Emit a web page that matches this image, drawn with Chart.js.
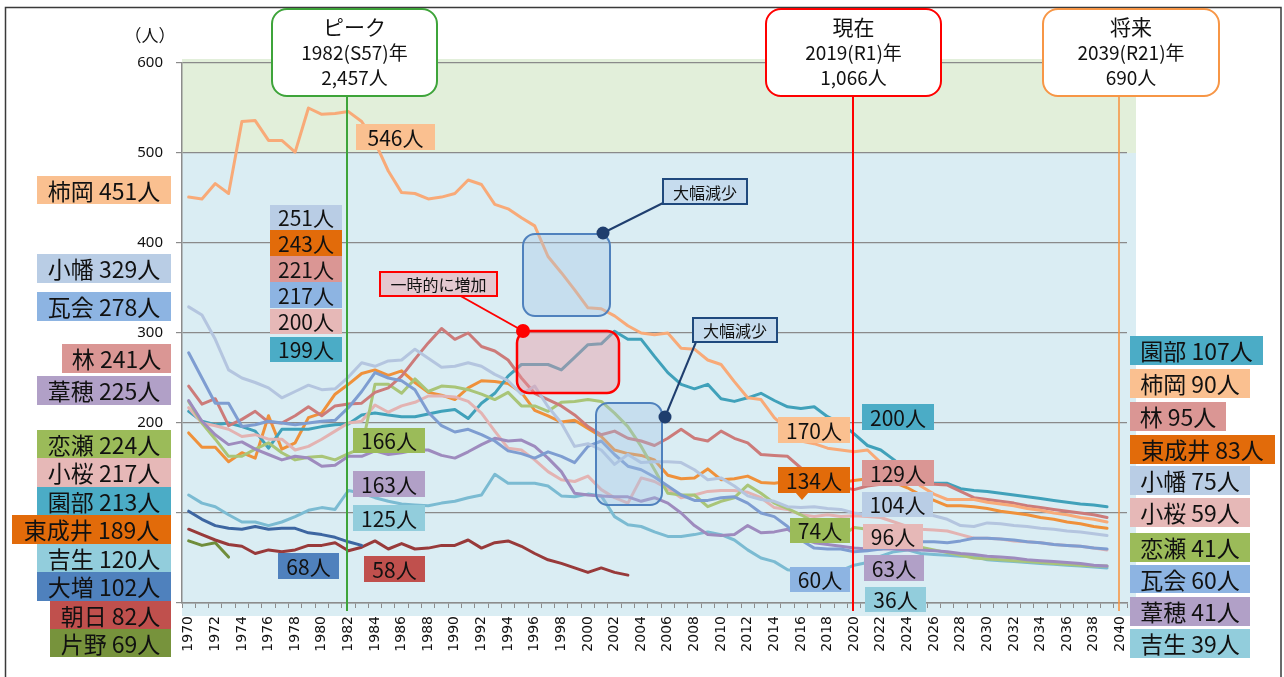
<!DOCTYPE html>
<html>
<head>
<meta charset="utf-8">
<script src="https://cdn.jsdelivr.net/npm/chart.js@4.4.1/dist/chart.umd.min.js"></script>
<style>
  html, body { margin: 0; padding: 0; background: #fff; }
  #wrap { width: 1284px; height: 677px; position: relative; }
</style>
</head>
<body>
<div id="wrap"><canvas id="chart" width="1284" height="677"></canvas></div>
<script>
// years on the category axis (1970 - 2040)
const years = []
for (let y = 1970; y <= 2040; y++) years.push(String(y))

// 児童数 (人), 1970 - 2039
const kakioka = [451, 449, 466, 455, 535, 536, 514, 514, 501, 550, 543, 544, 546, 535, 512, 480, 456, 455, 449, 451,
  455, 470, 465, 443, 438, 428, 419, 385, 367, 348, 328, 327, 319, 308, 300, 298, 300, 283, 282, 270,
  265, 246, 228, 226, 206, 193, 180, 177, 172, 170, 168, 170, 156, 150, 143, 130, 121, 115, 115, 115,
  112, 110, 108, 105, 103, 100, 98, 95, 93, 90]
const obata = [329, 320, 293, 259, 250, 245, 239, 228, 235, 242, 237, 238, 251, 267, 263, 269, 270, 282, 272, 262,
  263, 267, 263, 254, 247, 232, 241, 218, 200, 174, 177, 170, 154, 165, 156, 157, 157, 156, 148, 137,
  139, 130, 119, 115, 113, 107, 106, 107, 105, 104, 100, 98, 97, 98, 99, 99, 97, 93, 86, 85,
  89, 88, 86, 85, 83, 82, 80, 79, 77, 75]
const kawarago = [278, 250, 222, 222, 196, 198, 202, 200, 198, 200, 202, 203, 217, 235, 256, 250, 247, 237, 212, 197,
  190, 193, 187, 180, 169, 166, 161, 168, 163, 156, 174, 180, 165, 152, 148, 140, 130, 120, 114, 114,
  117, 118, 111, 100, 96, 85, 70, 61, 60, 60, 57, 58, 60, 63, 66, 68, 68, 67, 69, 72,
  72, 71, 70, 68, 67, 65, 64, 63, 61, 60]
const hayashi = [241, 221, 227, 197, 204, 213, 201, 200, 208, 218, 208, 219, 221, 222, 234, 239, 252, 271, 289, 305,
  293, 300, 285, 280, 270, 250, 233, 226, 219, 209, 196, 187, 191, 183, 180, 175, 183, 193, 183, 180,
  191, 183, 178, 165, 164, 163, 150, 141, 135, 129, 126, 130, 132, 133, 133, 132, 132, 131, 124, 117,
  115, 113, 111, 108, 106, 104, 102, 100, 98, 95]
const ashiho = [225, 202, 187, 176, 179, 171, 165, 159, 163, 161, 152, 153, 163, 163, 169, 165, 167, 170, 170, 164,
  161, 168, 176, 183, 180, 181, 174, 161, 146, 122, 120, 119, 118, 118, 113, 117, 111, 100, 86, 76,
  75, 76, 86, 78, 79, 82, 72, 67, 65, 63, 61, 60, 60, 60, 59, 59, 58, 57, 55, 54,
  52, 51, 50, 48, 47, 46, 45, 44, 42, 41]
const koise = [224, 200, 182, 163, 163, 171, 178, 167, 159, 162, 163, 159, 166, 172, 243, 243, 233, 249, 235, 241,
  240, 237, 232, 226, 234, 219, 219, 213, 223, 224, 226, 224, 211, 196, 174, 148, 122, 120, 120, 107,
  113, 117, 131, 122, 111, 105, 98, 90, 82, 74, 84, 82, 78, 72, 66, 62, 59, 56, 53, 50,
  49, 48, 47, 46, 45, 44, 43, 42, 41, 41]
const kozakura = [217, 200, 197, 193, 185, 187, 182, 182, 170, 174, 182, 191, 200, 202, 220, 212, 219, 223, 230, 230,
  229, 224, 211, 191, 172, 170, 159, 146, 137, 135, 141, 126, 117, 111, 139, 135, 127, 117, 120, 124,
  125, 125, 123, 117, 106, 104, 98, 96, 98, 96, 97, 96, 95, 90, 85, 82, 81, 80, 76, 72,
  72, 71, 69, 68, 67, 65, 64, 63, 61, 59]
const sonobe = [213, 202, 198, 200, 196, 191, 172, 193, 193, 193, 196, 198, 199, 209, 211, 209, 207, 207, 210, 213,
  215, 205, 222, 233, 252, 265, 265, 265, 259, 273, 287, 288, 302, 293, 293, 274, 256, 243, 238, 243,
  227, 224, 228, 233, 225, 218, 216, 218, 207, 200, 188, 175, 170, 159, 146, 133, 133, 133, 127, 125,
  124, 122, 120, 118, 116, 114, 112, 110, 109, 107]
const higashinarui = [189, 173, 173, 157, 167, 161, 208, 171, 178, 206, 211, 232, 243, 255, 259, 253, 258, 245, 234, 231,
  226, 239, 247, 246, 244, 234, 214, 208, 201, 203, 194, 185, 170, 166, 164, 159, 142, 138, 139, 149,
  137, 138, 141, 134, 133, 135, 131, 132, 133, 134, 136, 138, 137, 134, 128, 120, 114, 108, 108, 107,
  105, 102, 100, 98, 95, 93, 90, 88, 85, 83]
const yoshio = [120, 111, 107, 98, 90, 90, 86, 90, 96, 103, 106, 104, 125, 122, 117, 113, 110, 109, 108, 111,
  113, 117, 120, 143, 133, 133, 133, 130, 119, 118, 121, 119, 96, 87, 85, 79, 74, 74, 76, 79,
  76, 70, 59, 50, 46, 37, 35, 35, 36, 36, 42, 45, 52, 57, 59, 55, 54, 53, 52, 52,
  48, 47, 46, 45, 44, 43, 42, 41, 40, 39]
const omasu = [102, 93, 86, 83, 82, 85, 82, 83, 83, 78, 76, 73, 68, 64]
const asahi = [82, 76, 70, 65, 63, 55, 59, 57, 59, 64, 64, 67, 58, 62, 69, 60, 66, 60, 61, 64,
  64, 70, 61, 67, 69, 63, 55, 48, 44, 39, 34, 39, 34, 31]
const katano = [69, 64, 67, 51]

const seriesNames = ['柿岡', '小幡', '瓦会', '林', '葦穂', '恋瀬', '小桜', '園部', '東成井', '吉生', '大増', '朝日', '片野']
const seriesValues = [kakioka, obata, kawarago, hayashi, ashiho, koise, kozakura, sonobe, higashinarui, yoshio, omasu, asahi, katano]
const lineColors = ['#F8AA78', '#B4C5DF', '#7E9DD1', '#CC7B7A', '#9E8BBE', '#A9C578', '#E3B3B2',
  '#40A1BA', '#EF913B', '#7BBBD2', '#3D66A1', '#983A3A', '#6F8D3B']
const boxColors = ['#FAC090', '#B9CDE5', '#8DB4E2', '#DA9694', '#B1A0C7', '#9BBB59', '#E6B8B7',
  '#4BACC6', '#E26B0A', '#92CDDC', '#4F81BD', '#C0504D', '#77933C']

const yTicks = [0, 100, 200, 300, 400, 500, 600]
const callouts = [
  ['ピーク', '1982(S57)年', '2,457人'],
  ['現在', '2019(R1)年', '1,066人'],
  ['将来', '2039(R21)年', '690人']
]
const notes = ['一時的に増加', '大幅減少', '大幅減少']

const JP = '"Noto Sans CJK JP", "Noto Sans", sans-serif'

function pad(values) {
  const out = values.slice()
  while (out.length < years.length) out.push(null)
  return out
}

// Drawing helpers
function roundRect(ctx, x1, y1, x2, y2, r) {
  ctx.beginPath()
  ctx.moveTo(x1 + r, y1)
  ctx.lineTo(x2 - r, y1)
  ctx.arcTo(x2, y1, x2, y1 + r, r)
  ctx.lineTo(x2, y2 - r)
  ctx.arcTo(x2, y2, x2 - r, y2, r)
  ctx.lineTo(x1 + r, y2)
  ctx.arcTo(x1, y2, x1, y2 - r, r)
  ctx.lineTo(x1, y1 + r)
  ctx.arcTo(x1, y1, x1 + r, y1, r)
  ctx.closePath()
}

function labelBox(ctx, b, text, size) {
  const [x1, y1, x2, y2, color] = b
  ctx.fillStyle = color
  ctx.fillRect(x1, y1, x2 - x1, y2 - y1)
  ctx.fillStyle = '#111'
  ctx.font = size + 'px ' + JP
  ctx.textAlign = 'center'
  ctx.textBaseline = 'middle'
  ctx.fillText(text, (x1 + x2) / 2, (y1 + y2) / 2 + 1)
}

function dot(ctx, x, y, r, color) {
  ctx.beginPath()
  ctx.arc(x, y, r, 0, Math.PI * 2)
  ctx.fillStyle = color
  ctx.fill()
}

const decoPlugin = {
  id: 'deco',
  beforeDraw(chart) {
    const ctx = chart.ctx
    const ys = chart.scales.y
    const area = chart.chartArea
    ctx.save()
    ctx.fillStyle = '#fff'
    ctx.fillRect(0, 0, chart.width, chart.height)
    // outer frame
    ctx.strokeStyle = '#3a3a3a'
    ctx.lineWidth = 1.5
    ctx.strokeRect(5.5, 7.5, 1275.5, 700)
    // plot background bands
    ctx.fillStyle = '#E2EFDA'
    ctx.fillRect(area.left, ys.getPixelForValue(600) - 4, area.right - area.left + 9, ys.getPixelForValue(500) - ys.getPixelForValue(600) + 4)
    ctx.fillStyle = '#DAEDF3'
    ctx.fillRect(area.left, ys.getPixelForValue(500), area.right - area.left + 9, area.bottom - ys.getPixelForValue(500) + 13)
    ctx.restore()
  },
  afterDatasetsDraw(chart) {
    const ctx = chart.ctx
    const xs = chart.scales.x
    const area = chart.chartArea
    ctx.save()

    // highlight boxes
    roundRect(ctx, 523, 234, 610, 316, 12)
    ctx.fillStyle = 'rgba(160,195,230,0.35)'
    ctx.fill()
    ctx.strokeStyle = '#4F81BD'
    ctx.lineWidth = 2
    ctx.stroke()

    roundRect(ctx, 596, 403, 662, 505, 12)
    ctx.fillStyle = 'rgba(160,195,230,0.35)'
    ctx.fill()
    ctx.stroke()

    roundRect(ctx, 517, 331, 619, 393, 12)
    ctx.fillStyle = 'rgba(235,150,160,0.42)'
    ctx.fill()
    ctx.strokeStyle = '#FF0000'
    ctx.lineWidth = 2.5
    ctx.stroke()

    // connectors
    ctx.lineWidth = 2
    ctx.strokeStyle = '#FF0000'
    ctx.beginPath(); ctx.moveTo(457, 294); ctx.lineTo(523, 331); ctx.stroke()
    dot(ctx, 523, 331, 7, '#FF0000')
    ctx.strokeStyle = '#1F3E6E'
    ctx.beginPath(); ctx.moveTo(665, 202); ctx.lineTo(603, 233); ctx.stroke()
    dot(ctx, 603, 233, 6.5, '#1F3E6E')
    ctx.beginPath(); ctx.moveTo(696, 342); ctx.lineTo(665, 417); ctx.stroke()
    dot(ctx, 665, 417, 6.5, '#1F3E6E')

    // note boxes
    const noteBoxes = [
      [380, 272, 497, 296, '#E4C8D0', '#FF0000'],
      [663, 179, 747, 204, '#C6DCEE', '#1F497D'],
      [693, 318, 777, 342, '#C6DCEE', '#1F497D']
    ]
    noteBoxes.forEach((b, i) => {
      ctx.fillStyle = b[4]
      ctx.fillRect(b[0], b[1], b[2] - b[0], b[3] - b[1])
      ctx.strokeStyle = b[5]
      ctx.lineWidth = 2
      ctx.strokeRect(b[0], b[1], b[2] - b[0], b[3] - b[1])
      ctx.fillStyle = '#111'
      ctx.font = '16px ' + JP
      ctx.textAlign = 'center'
      ctx.textBaseline = 'middle'
      ctx.fillText(notes[i], (b[0] + b[2]) / 2, (b[1] + b[3]) / 2 + 1)
    })

    // marker lines + callouts (1982, 2020, 2040)
    const marks = [
      [years.indexOf('1982'), '#3EA43A', 2, 272, 437],
      [years.indexOf('2020'), '#FF0000', 2, 766, 941],
      [years.indexOf('2040'), '#F79646', 1.6, 1043, 1219]
    ]
    marks.forEach((m, i) => {
      const x = Math.round(xs.getPixelForValue(m[0])) - 1
      ctx.strokeStyle = m[1]
      ctx.lineWidth = m[2]
      ctx.beginPath(); ctx.moveTo(x, 96); ctx.lineTo(x, area.bottom + 8); ctx.stroke()
      roundRect(ctx, m[3], 9, m[4], 96, 15)
      ctx.fillStyle = '#fff'
      ctx.fill()
      ctx.lineWidth = 2
      ctx.stroke()
      const cx = (m[3] + m[4]) / 2
      ctx.fillStyle = '#111'
      ctx.textAlign = 'center'
      ctx.textBaseline = 'middle'
      ctx.font = '21px ' + JP
      ctx.fillText(callouts[i][0], cx, 27)
      ctx.font = '19px ' + JP
      ctx.fillText(callouts[i][1], cx, 53)
      ctx.fillText(callouts[i][2], cx, 78)
    })
    ctx.restore()
  },
  afterDraw(chart) {
    const ctx = chart.ctx
    ctx.save()
    // unit
    ctx.fillStyle = '#111'
    ctx.font = '17px ' + JP
    ctx.textAlign = 'center'
    ctx.textBaseline = 'middle'
    ctx.fillText('（人）', 150, 36)

    const txt = (s, i) => seriesNames[s] + ' ' + seriesValues[s][i] + '人'
    const num = (s, i) => seriesValues[s][i] + '人'

    // 1970 labels
    const left = [
      [0, 37, 176, 171, 204], [1, 37, 254, 171, 283], [2, 37, 292, 171, 321], [3, 62, 344, 171, 373],
      [4, 37, 376, 171, 405], [5, 37, 430, 171, 458], [6, 37, 458, 171, 487], [7, 37, 487, 171, 515],
      [8, 12, 515, 171, 544], [9, 37, 544, 171, 572], [10, 37, 572, 171, 601], [11, 50, 601, 171, 629],
      [12, 50, 629, 171, 657]
    ]
    left.forEach((b) => labelBox(ctx, [b[1], b[2], b[3], b[4], boxColors[b[0]]], txt(b[0], 0), 23))

    // 1982 labels
    const i82 = years.indexOf('1982')
    const mid = [
      [1, 270, 205, 342, 230], [8, 270, 230, 342, 256], [3, 270, 256, 342, 282], [2, 270, 282, 342, 308],
      [6, 270, 309, 342, 334], [7, 270, 337, 342, 362], [10, 278, 553, 339, 579], [5, 353, 428, 425, 453],
      [4, 353, 471, 425, 497], [9, 353, 505, 425, 531], [11, 364, 556, 425, 582], [0, 356, 124, 435, 150]
    ]
    mid.forEach((b) => labelBox(ctx, [b[1], b[2], b[3], b[4], boxColors[b[0]]], num(b[0], i82), 21))

    // 2019 labels
    const i19 = years.indexOf('2019')
    const now = [
      [0, 778, 417, 850, 443], [7, 862, 404, 934, 430], [8, 778, 467, 850, 493], [3, 862, 460, 934, 486],
      [1, 862, 492, 933, 517], [5, 790, 518, 850, 543], [6, 863, 524, 923, 549], [2, 790, 567, 850, 592],
      [4, 864, 555, 924, 581], [9, 865, 587, 926, 612]
    ]
    // small pointer under the 134 box
    ctx.fillStyle = boxColors[8]
    ctx.beginPath(); ctx.moveTo(795, 492); ctx.lineTo(809, 492); ctx.lineTo(802, 500); ctx.closePath(); ctx.fill()
    now.forEach((b) => labelBox(ctx, [b[1], b[2], b[3], b[4], boxColors[b[0]]], num(b[0], i19), 21))

    // 2039 labels
    const i39 = years.indexOf('2039')
    const right = [
      [7, 1130, 336, 1263, 365], [0, 1130, 369, 1250, 398], [3, 1130, 402, 1226, 431], [8, 1130, 435, 1275, 464],
      [1, 1130, 466, 1250, 495], [6, 1130, 498, 1250, 527], [5, 1130, 533, 1250, 562], [2, 1130, 565, 1250, 593],
      [4, 1130, 597, 1250, 626], [9, 1130, 629, 1250, 658]
    ]
    right.forEach((b) => labelBox(ctx, [b[1], b[2], b[3], b[4], boxColors[b[0]]], txt(b[0], i39), 23))
    ctx.restore()
  }
}

new Chart(document.getElementById('chart'), {
  type: 'line',
  data: {
    labels: years,
    datasets: seriesNames.map((name, i) => ({
      label: name,
      data: pad(seriesValues[i]),
      borderColor: lineColors[i],
      borderWidth: 3,
      pointRadius: 0,
      tension: 0,
      borderJoinStyle: 'round',
      borderCapStyle: 'round',
      spanGaps: false
    }))
  },
  options: {
    responsive: false,
    animation: false,
    events: [],
    layout: { padding: { left: 0, right: 157, top: 63, bottom: 0 } },
    plugins: { legend: { display: false }, tooltip: { enabled: false } },
    scales: {
      x: {
        type: 'category',
        offset: true,
        afterFit: (scale) => { scale.height = 74 },
        grid: { offset: true, drawOnChartArea: false, drawTicks: true, tickLength: 5, color: '#8c8c8c' },
        border: { color: '#8c8c8c', width: 1.5 },
        ticks: {
          autoSkip: false,
          minRotation: 90,
          maxRotation: 90,
          padding: 8,
          color: '#111',
          font: { family: 'DejaVu Sans', size: 14 },
          callback: function (v, i) { return i % 2 === 0 ? years[i] : '' }
        }
      },
      y: {
        min: 0,
        max: 600,
        afterFit: (scale) => { scale.width = 182 },
        afterBuildTicks: (scale) => { scale.ticks = yTicks.map((v) => ({ value: v })) },
        grid: { color: '#8a8a8a', lineWidth: 1.2, tickLength: 6 },
        border: { color: '#8c8c8c', width: 1.5 },
        ticks: { padding: 13, color: '#111', font: { family: 'Noto Sans', size: 15 } }
      }
    }
  },
  plugins: [decoPlugin]
})
</script>
</body>
</html>
